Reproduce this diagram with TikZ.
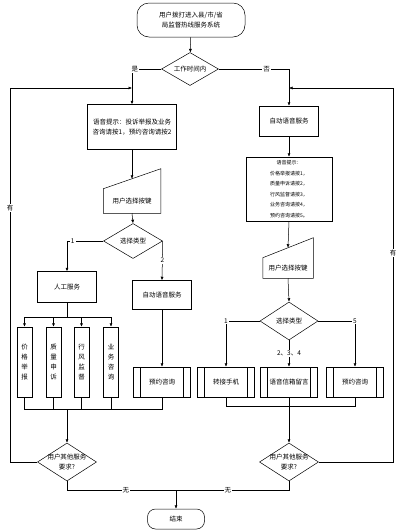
\documentclass[tikz,border=0pt]{standalone}
\usepackage{fontspec}
\setmainfont{Noto Sans CJK SC}
\usetikzlibrary{shapes.geometric,arrows.meta}

\begin{document}
\begin{tikzpicture}[x=1pt,y=-1pt,line width=0.5pt,
    font=\fontsize{6.5}{10}\selectfont,
    >={Latex[length=3.5pt,width=3pt]},
    box/.style={draw,rectangle,inner sep=1pt,align=center},
    dec/.style={draw,diamond,inner sep=0pt,aspect=1.7,align=center},
    term/.style={draw,rectangle,align=center},
    sub/.style={draw,rectangle,align=center,minimum width=57,minimum height=30,
        path picture={\draw
            ([xshift=7pt]path picture bounding box.north west) --
            ([xshift=7pt]path picture bounding box.south west)
            ([xshift=-7pt]path picture bounding box.north east) --
            ([xshift=-7pt]path picture bounding box.south east);}},
    lbl/.style={fill=white,inner sep=1pt}]
\useasboundingbox (0,0) rectangle (400,531);

\node[term,rounded corners=12pt,minimum width=108,minimum height=34] (s)
    at (191,20) {用户拨打进入县/市/省\\局监督热线服务系统};
\node[dec,minimum width=57,minimum height=33] (d1) at (190,69) {工作时间内};

% left branch
\node[box,minimum width=89,minimum height=45] (b1)
    at (132,127) {语音提示：投诉举报及业务\\咨询请按1，预约咨询请按2};
\node[minimum width=57,minimum height=24,inner sep=0pt] (k1) at (132,201) {用户选择按键};
\draw (k1.north west) -- ([yshift=20pt]k1.north east) -- (k1.south east)
    -- (k1.south west) -- cycle;
\node[dec,minimum width=59,minimum height=35] (d2) at (133,241) {选择类型};
\node[box,minimum width=59,minimum height=31] (r1) at (67,287) {人工服务};
\node[box,minimum width=59,minimum height=29] (a1) at (162,295) {自动语音服务};
\foreach \x/\t [count=\n] in {24.5/{价\\格\\举\\报}, 53.5/{质\\量\\申\\诉},
                              81.5/{行\\风\\监\\督}, 111/{业\\务\\咨\\询}}
    \node[box,minimum width=15,minimum height=70] (v\n) at (\x,362) {\t};
\node[sub] (y1) at (162,382) {预约咨询};
\node[dec,minimum width=59,minimum height=38,
    label={[align=center]center:用户其他服务\\要求?}] (e1) at (67,462) {};

% right branch
\node[box,minimum width=59,minimum height=30] (b2) at (289,121) {自动语音服务};
\node[box,minimum width=86,minimum height=64,font=\fontsize{5}{10.5}\selectfont] (b3)
    at (289,189) {语音提示：\\价格举报请按1，\\质量申诉请按2，\\行风监督请按3，\\业务咨询请按4，\\预约咨询请按5。};
\node[minimum width=50,minimum height=20,inner sep=0pt] (k2) at (288,268) {用户选择按键};
\draw (k2.north west) -- ([yshift=20pt]k2.north east) -- (k2.south east)
    -- (k2.south west) -- cycle;
\node[dec,minimum width=58,minimum height=38] (d3) at (289,321) {选择类型};
\foreach \x/\t [count=\n] in {226/转接手机, 289/语音信箱留言, 355/预约咨询}
    \node[sub] (t\n) at (\x,382) {\t};
\node[dec,minimum width=59,minimum height=38,
    label={[align=center]center:用户其他服务\\要求?}] (e2) at (289,462) {};

\node[term,rounded corners=8pt,minimum width=57,minimum height=20] (end)
    at (176,519) {结束};

\coordinate (j1) at (67,317);
\coordinate (j2) at (67,409);
\coordinate (j3) at (289,406);
\coordinate (j4) at (176,490);
\coordinate (l1) at (10,88);
\coordinate (l2) at (393,88);

% connectors
\draw[->] (s) -- (d1);
\draw[->] (d1.west) -| node[lbl,pos=0.45] {是} (b1.north);
\draw[->] (d1.east) -| node[lbl,pos=0.34] {否} (b2.north);
\draw[->] (b1.south) -- ([yshift=10pt]k1.north);
\draw[->] (k1.south) -- (d2.north);
\draw[->] (d2.west) -| node[lbl,pos=0.42] {1} (r1.north);
\draw[->] (d2.east) -- node[lbl] {2} (a1.north);
\draw (r1.south) -- (j1);
\draw (v1 |- j1) -- (v4 |- j1);
\foreach \n in {1,...,4}
    \draw[->] (v\n |- j1) -- (v\n.north);
\draw[->] (a1.south) -- (y1.north);
\draw (v1.south) -- (v1 |- j2) -- (y1 |- j2) -- (y1.south);
\foreach \n in {2,3,4}
    \draw (v\n.south) -- (v\n |- j2);
\draw[->] (j2) -- (e1.north);

\draw[->] (b2.south) -- (b3.north);
\draw[->] (b3.south) -- ([yshift=10pt]k2.north);
\draw[->] (k2.south) -- (d3.north);
\draw[->] (d3.west) -| node[lbl,pos=0.5] {1} (t1.north);
\draw[->] (d3.east) -| node[lbl,pos=0.5] {5} (t3.north);
\draw[->] (d3.south) -- node[lbl] {2、3、4} (t2.north);
\draw (t1.south) -- (t1 |- j3) -- (t3 |- j3) -- (t3.south);
\draw (t2.south) -- (j3);
\draw[->] (j3) -- (e2.north);

\draw[->] (e1.west) -| node[lbl,pos=0.84] {有} (l1) -- (l1 -| b1.north);
\draw[->] (e2.east) -| node[lbl,pos=0.78] {有} (l2) -- (l2 -| b2.north);
\draw (e1.south) |- node[lbl,pos=0.77] {无} (j4);
\draw (e2.south) |- node[lbl,pos=0.77] {无} (j4);
\draw[->] (j4) -- (end.north);
\end{tikzpicture}
\end{document}
